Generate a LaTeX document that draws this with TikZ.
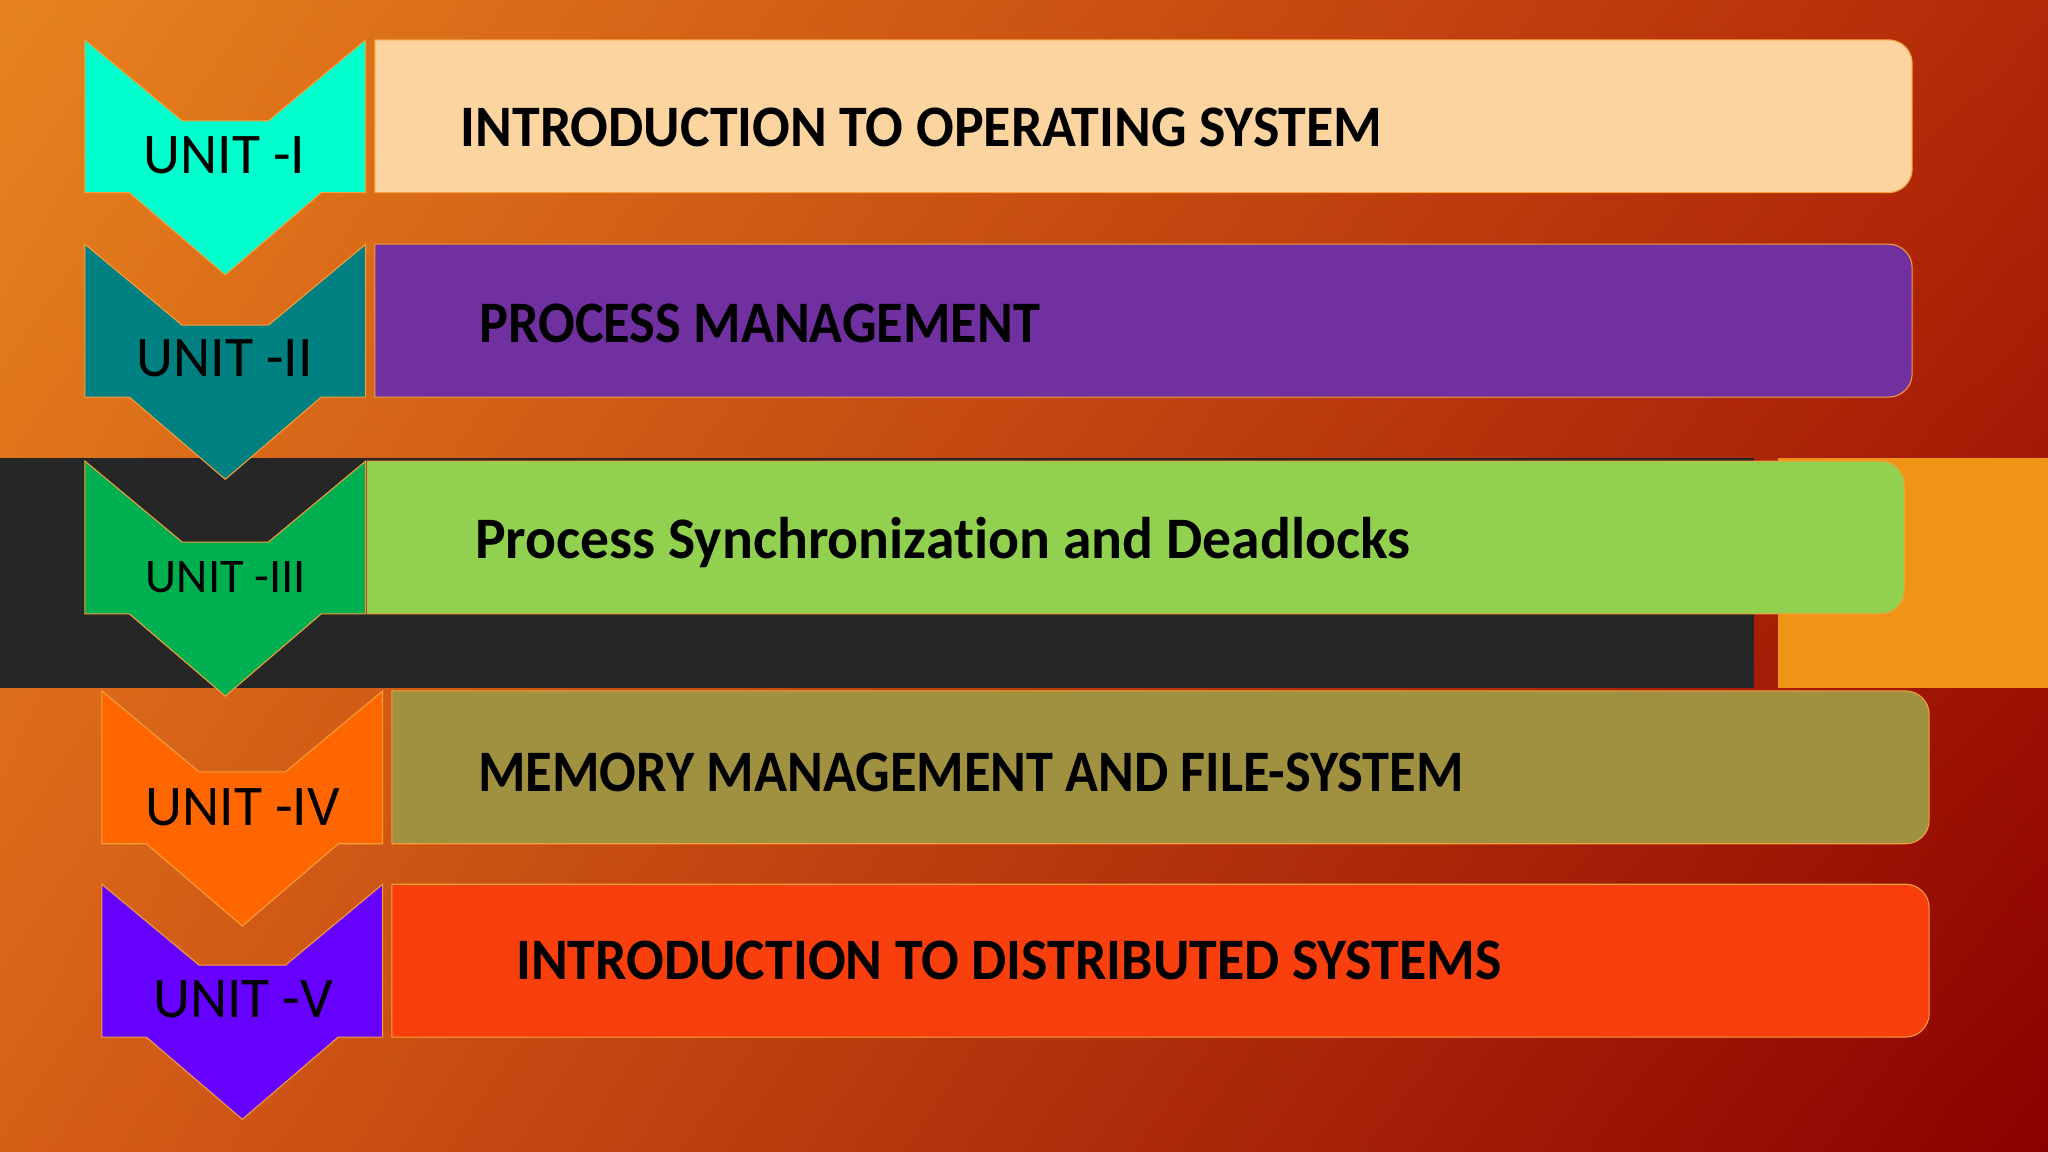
\documentclass[tikz,border=0pt]{standalone}
\usepackage{fontspec}
\setmainfont{Carlito}
\newfontfamily\boldcarlito[FakeStretch=0.925, Ligatures=NoCommon]{Carlito}
\newfontfamily\boldcarlitomid[FakeStretch=0.95, Ligatures=NoCommon]{Carlito}
\newfontfamily\boldcarlitowide[FakeStretch=0.98, Ligatures=NoCommon]{Carlito}
\usepackage{tikz}
\usetikzlibrary{positioning}
\usetikzlibrary{shadings}
\usepackage{xcolor}
\definecolor{bgul}{HTML}{E7831F}
\definecolor{bgur}{HTML}{B32808}
\definecolor{bgll}{HTML}{D65F17}
\definecolor{bglr}{HTML}{8A0000}
\definecolor{edge}{HTML}{F5A03A}
\definecolor{band}{HTML}{262626}
\definecolor{block}{HTML}{EF9414}
\definecolor{chevA}{HTML}{00FFCC}
\definecolor{chevB}{HTML}{008080}
\definecolor{chevC}{HTML}{00B050}
\definecolor{chevD}{HTML}{FF6600}
\definecolor{chevE}{HTML}{6600FF}
\definecolor{barA}{HTML}{FBD49F}
\definecolor{barB}{HTML}{7030A0}
\definecolor{barC}{HTML}{92D050}
\definecolor{barD}{HTML}{A09140}
\definecolor{barE}{HTML}{F93F0D}
% chevron: centre x, top y, colour
\newcommand\chevshape[3]{
  \filldraw[fill=#3, draw=edge, line width=0.8pt] (#1-107.5,#2) -- ++(74.5,-62) -- ++(66,0) -- ++(74.5,62) -- ++(0,-117) -- ++(-34,0) -- ++(-73.5,-63) -- ++(-73.5,63) -- ++(-34,0) -- cycle;
}
% bar: left x, right x, top y, colour
\newcommand\unitbar[4]{
  \filldraw[fill=#4, draw=edge, line width=0.8pt] (#1,#3) -- (#2-18,#3) arc[start angle=90, end angle=0, radius=18pt] -- (#2,#3-99) arc[start angle=0, end angle=-90, radius=18pt] -- (#1,#3-117) -- cycle;
}

\begin{document}
\begin{tikzpicture}[x=1pt, y=1pt,
	unitlbl/.style={font=\fontsize{44}{48}\selectfont, inner sep=0, anchor=base},
	titlelbl/.style={font=\boldcarlito\bfseries\fontsize{45}{50}\selectfont, inner sep=0, anchor=base west}]
	    		\useasboundingbox (0,0) rectangle (1568,882);
	    		\shade[upper left=bgul, upper right=bgur, lower left=bgll, lower right=bglr] (0,0) rectangle (1568,882);
	    		\fill[band] (0,355.5) rectangle (1343,531);
	    		\fill[block] (1361.5,355.5) rectangle (1568,531);
	    		\unitbar{287}{1464}{851.5}{barA}
	    		\unitbar{287}{1464}{695}{barB}
	    		\unitbar{281}{1458}{529}{barC}
	    		\unitbar{300}{1477}{353}{barD}
	    		\unitbar{300}{1477}{205}{barE}
	    		\chevshape{172.5}{851.5}{chevA}
	    		\chevshape{172.5}{695}{chevB}
	    		\chevshape{172.5}{529}{chevC}
	    		\chevshape{185.5}{353}{chevD}
	    		\chevshape{185.5}{205}{chevE}
	    		\node[unitlbl] (unit1) at (172,749.5) {UNIT -I};
	    		\node[unitlbl] (unit2) at (172,593.6) {UNIT -II};
	    		\node[unitlbl, font=\fontsize{37}{40}\selectfont] (unit3) at (173,428.5) {UNIT -III};
	    		\node[unitlbl] (unit4) at (186,250) {UNIT -IV};
	    		\node[unitlbl] (unit5) at (186,103) {UNIT -V};
	    		\node[titlelbl, font=\boldcarlitomid\bfseries\fontsize{45}{50}\selectfont] (title1) at (352.5,769.75) {INTRODUCTION TO OPERATING SYSTEM};
	    		\node[titlelbl] (title2) at (366.8,619.6) {PROCESS MANAGEMENT};
	    		\node[titlelbl, font=\boldcarlitowide\bfseries\fontsize{45}{50}\selectfont] (title3) at (363.5,454.5) {Process Synchronization and Deadlocks};
	    		\node[titlelbl] (title4) at (366,276) {MEMORY MANAGEMENT AND FILE-SYSTEM};
	    		\node[titlelbl, font=\boldcarlitomid\bfseries\fontsize{45}{50}\selectfont] (title5) at (395,132) {INTRODUCTION TO DISTRIBUTED SYSTEMS};
	    	\end{tikzpicture}
\end{document}
